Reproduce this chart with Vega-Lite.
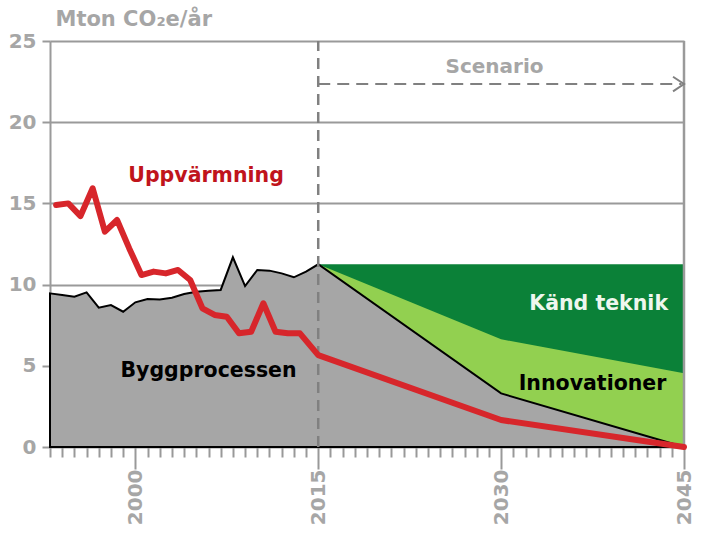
{
  "$schema": "https://vega.github.io/schema/vega-lite/v6.json",
  "width": 634,
  "height": 406,
  "autosize": "none",
  "padding": {"left": 50, "top": 41, "right": 18, "bottom": 93},
  "background": "white",
  "config": {"view": {"stroke": null}},
  "datasets": {
    "bygg": [
      {"year": 1993, "v": 9.46}, {"year": 1994, "v": 9.36}, {"year": 1995, "v": 9.26},
      {"year": 1996, "v": 9.52}, {"year": 1997, "v": 8.58}, {"year": 1998, "v": 8.74},
      {"year": 1999, "v": 8.33}, {"year": 2000, "v": 8.91}, {"year": 2001, "v": 9.11},
      {"year": 2002, "v": 9.09}, {"year": 2003, "v": 9.19}, {"year": 2004, "v": 9.42},
      {"year": 2005, "v": 9.56}, {"year": 2006, "v": 9.62}, {"year": 2007, "v": 9.67},
      {"year": 2008, "v": 11.68}, {"year": 2009, "v": 9.91}, {"year": 2010, "v": 10.9},
      {"year": 2011, "v": 10.86}, {"year": 2012, "v": 10.69}, {"year": 2013, "v": 10.45},
      {"year": 2014, "v": 10.8}, {"year": 2015, "v": 11.25}, {"year": 2030, "v": 3.3},
      {"year": 2045, "v": 0}
    ],
    "innov": [
      {"year": 2015, "v": 11.25}, {"year": 2030, "v": 6.63}, {"year": 2045, "v": 4.54}
    ],
    "kand": [
      {"year": 2015, "v": 11.25}, {"year": 2045, "v": 11.25}
    ],
    "upp": [
      {"year": 1993.5, "v": 14.9}, {"year": 1994.5, "v": 15.0}, {"year": 1995.5, "v": 14.22},
      {"year": 1996.5, "v": 15.93}, {"year": 1997.5, "v": 13.26}, {"year": 1998.5, "v": 13.98},
      {"year": 1999.5, "v": 12.23}, {"year": 2000.5, "v": 10.59}, {"year": 2001.5, "v": 10.8},
      {"year": 2002.5, "v": 10.69}, {"year": 2003.5, "v": 10.9}, {"year": 2004.5, "v": 10.28},
      {"year": 2005.5, "v": 8.54}, {"year": 2006.5, "v": 8.13}, {"year": 2007.5, "v": 8.02},
      {"year": 2008.5, "v": 7.0}, {"year": 2009.5, "v": 7.1}, {"year": 2010.5, "v": 8.85},
      {"year": 2011.5, "v": 7.1}, {"year": 2012.5, "v": 7.0}, {"year": 2013.5, "v": 7.0},
      {"year": 2015, "v": 5.66}, {"year": 2030, "v": 1.66}, {"year": 2045, "v": 0}
    ]
  },
  "layer": [
    {
      "data": {"name": "kand"},
      "mark": {"type": "area", "color": "#0B8138", "opacity": 1},
      "encoding": {
        "x": {
          "field": "year", "type": "quantitative",
          "scale": {"domain": [1993, 2045], "nice": false, "zero": false},
          "axis": {
            "title": null,
            "values": [1993,1994,1995,1996,1997,1998,1999,2000,2001,2002,2003,2004,2005,2006,2007,2008,2009,2010,2011,2012,2013,2014,2015,2016,2017,2018,2019,2020,2021,2022,2023,2024,2025,2026,2027,2028,2029,2030,2031,2032,2033,2034,2035,2036,2037,2038,2039,2040,2041,2042,2043,2044,2045],
            "tickCount": 100,
            "format": "d",
            "labelExpr": "indexof([2000,2015,2030,2045], datum.value) >= 0 ? datum.label : ''",
            "labelAngle": 270,
            "labelFont": "DejaVu Sans",
            "labelFontWeight": "bold",
            "labelFontSize": 20,
            "labelColor": "#A6A6A6",
            "labelPadding": 0,
            "labelOverlap": false,
            "labelFlush": false,
            "domain": false,
            "grid": false,
            "tickColor": "#999999",
            "tickWidth": 2,
            "tickSize": {"condition": {"test": "indexof([2000,2015,2030,2045], datum.value) >= 0", "value": 22}, "value": 10}
          }
        },
        "y": {
          "field": "v", "type": "quantitative",
          "scale": {"domain": [0, 25], "nice": false},
          "axis": {
            "values": [0, 5, 10, 15, 20, 25],
            "title": "Mton CO₂e/år",
            "titleAngle": 0,
            "titleAlign": "left",
            "titleBaseline": "alphabetic",
            "titleX": 5,
            "titleY": -16,
            "titleFont": "DejaVu Sans",
            "titleFontWeight": "bold",
            "titleFontSize": 21,
            "titleColor": "#A6A6A6",
            "labelFont": "DejaVu Sans",
            "labelFontWeight": "bold",
            "labelFontSize": 20,
            "labelColor": "#A6A6A6",
            "labelPadding": 6,
            "grid": true,
            "gridColor": "#9A9A9A",
            "gridWidth": 2,
            "domainColor": "#9A9A9A",
            "domainWidth": 2,
            "tickColor": "#9A9A9A",
            "tickWidth": 2,
            "tickSize": 8
          }
        }
      }
    },
    {
      "data": {"name": "innov"},
      "mark": {"type": "area", "color": "#92D050", "opacity": 1},
      "encoding": {
        "x": {"field": "year", "type": "quantitative"},
        "y": {"field": "v", "type": "quantitative"}
      }
    },
    {
      "data": {"name": "bygg"},
      "mark": {"type": "area", "fill": "#A6A6A6", "stroke": "#000000", "strokeWidth": 2, "opacity": 1, "fillOpacity": 1},
      "encoding": {
        "x": {"field": "year", "type": "quantitative"},
        "y": {"field": "v", "type": "quantitative"}
      }
    },
    {
      "data": {"values": [{"x": 2015, "y": 0, "y2": 25}]},
      "mark": {"type": "rule", "color": "#808080", "strokeWidth": 2.5, "strokeDash": [11, 7]},
      "encoding": {
        "x": {"field": "x", "type": "quantitative"},
        "y": {"field": "y", "type": "quantitative"},
        "y2": {"field": "y2"}
      }
    },
    {
      "data": {"values": [{"x": 2045, "y": 0, "y2": 25}]},
      "mark": {"type": "rule", "color": "#9A9A9A", "strokeWidth": 2.5},
      "encoding": {
        "x": {"field": "x", "type": "quantitative"},
        "y": {"field": "y", "type": "quantitative"},
        "y2": {"field": "y2"}
      }
    },
    {
      "data": {"name": "upp"},
      "mark": {"type": "line", "color": "#D7262B", "strokeWidth": 6, "strokeJoin": "round", "strokeCap": "round"},
      "encoding": {
        "x": {"field": "year", "type": "quantitative"},
        "y": {"field": "v", "type": "quantitative"}
      }
    },
    {
      "data": {"values": [{"x": 2015, "x2": 2044.8, "y": 22.35}]},
      "mark": {"type": "rule", "color": "#808080", "strokeWidth": 2, "strokeDash": [12, 7]},
      "encoding": {
        "x": {"field": "x", "type": "quantitative"},
        "x2": {"field": "x2"},
        "y": {"field": "y", "type": "quantitative"}
      }
    },
    {
      "data": {"values": [{"x": 2044.1, "y": 22.8, "o": 1}, {"x": 2045, "y": 22.35, "o": 2}, {"x": 2044.1, "y": 21.9, "o": 3}]},
      "mark": {"type": "line", "color": "#808080", "strokeWidth": 2},
      "encoding": {
        "x": {"field": "x", "type": "quantitative"},
        "y": {"field": "y", "type": "quantitative"},
        "order": {"field": "o"}
      }
    },
    {
      "data": {"values": [{"t": "Uppvärmning", "x": 2005.8, "y": 16.3}]},
      "mark": {"type": "text", "font": "DejaVu Sans", "fontWeight": "bold", "fontSize": 20.5, "color": "#C0141C", "align": "center", "baseline": "alphabetic"},
      "encoding": {
        "x": {"field": "x", "type": "quantitative"},
        "y": {"field": "y", "type": "quantitative"},
        "text": {"field": "t"}
      }
    },
    {
      "data": {"values": [{"t": "Byggprocessen", "x": 2006.0, "y": 4.29}, {"t": "Innovationer", "x": 2037.5, "y": 3.51}]},
      "mark": {"type": "text", "font": "DejaVu Sans", "fontWeight": "bold", "fontSize": 20.5, "color": "#000000", "align": "center", "baseline": "alphabetic"},
      "encoding": {
        "x": {"field": "x", "type": "quantitative"},
        "y": {"field": "y", "type": "quantitative"},
        "text": {"field": "t"}
      }
    },
    {
      "data": {"values": [{"t": "Känd teknik", "x": 2038.0, "y": 8.44}]},
      "mark": {"type": "text", "font": "DejaVu Sans", "fontWeight": "bold", "fontSize": 20.5, "color": "#EEF7EE", "align": "center", "baseline": "alphabetic"},
      "encoding": {
        "x": {"field": "x", "type": "quantitative"},
        "y": {"field": "y", "type": "quantitative"},
        "text": {"field": "t"}
      }
    },
    {
      "data": {"values": [{"t": "Scenario", "x": 2029.46, "y": 23.0}]},
      "mark": {"type": "text", "font": "DejaVu Sans", "fontWeight": "bold", "fontSize": 20, "color": "#A6A6A6", "align": "center", "baseline": "alphabetic"},
      "encoding": {
        "x": {"field": "x", "type": "quantitative"},
        "y": {"field": "y", "type": "quantitative"},
        "text": {"field": "t"}
      }
    }
  ]
}
